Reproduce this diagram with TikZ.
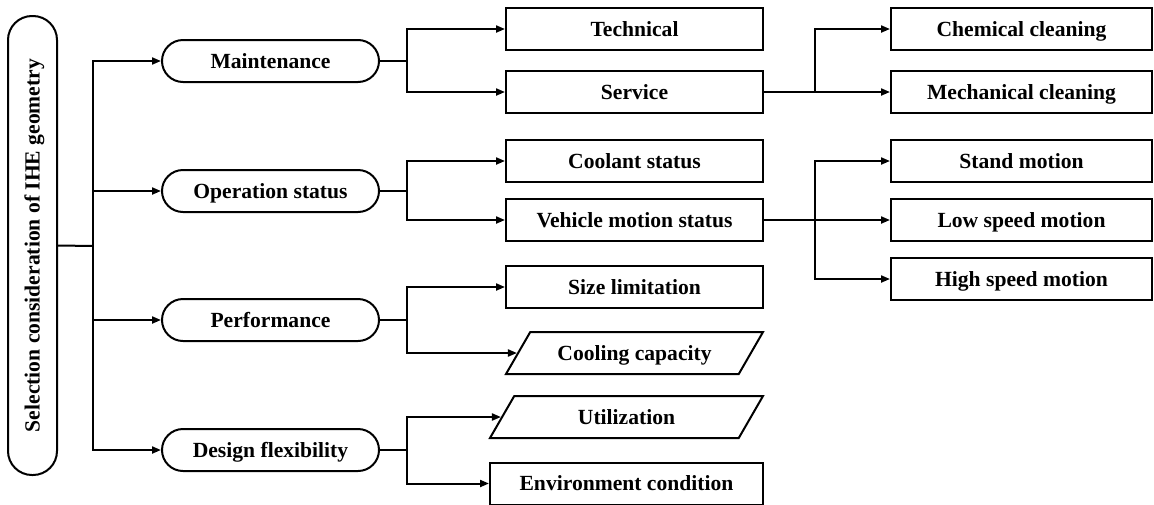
\documentclass[tikz,border=0pt]{standalone}
\usepackage{fontspec}
\setmainfont{Liberation Serif}
\usetikzlibrary{arrows.meta,shapes.geometric}
\tikzset{
  lbl/.style={font=\bfseries\fontsize{10.8}{13}\selectfont, line width=1pt, inner sep=0pt,
    text height=8.4pt, text depth=1.3pt},
  pill/.style={lbl, draw, rounded corners=10.5pt, minimum width=108.5pt, minimum height=21pt},
  sbox/.style={lbl, draw, minimum width=128.5pt, minimum height=21pt},
  slant/.style={lbl, draw, trapezium, trapezium left angle=60, trapezium right angle=120,
    trapezium stretches body, inner ysep=5.65pt, minimum width=128.5pt},
  arr/.style={line width=1pt, -{Triangle[length=4.5pt,width=3.5pt]}},
  ln/.style={line width=1pt}
}
\begin{document}
\begin{tikzpicture}[x=0.5pt, y=-0.5pt]
    \useasboundingbox (0,0) rectangle (1154,504);
    \node[lbl, draw, rounded corners=12pt, rotate=90, minimum width=229.5pt, minimum height=24.5pt] (r) at (32.5,245.5){Selection consideration of IHE geometry};
    \node[pill] (m) at (270.5,61){Maintenance};
    \node[pill] (o) at (270.5,191){Operation status};
    \node[pill] (p) at (270.5,320){Performance};
    \node[pill] (d) at (270.5,450){Design flexibility};
    \node[sbox] (tc) at (634.5,29){Technical};
    \node[sbox] (sv) at (634.5,92){Service};
    \node[sbox] (cs) at (634.5,161){Coolant status};
    \node[sbox] (vm) at (634.5,220){Vehicle motion status};
    \node[sbox] (sl) at (634.5,287){Size limitation};
    \node[slant] (cc) at (634.5,353){Cooling capacity};
    \node[slant, minimum width=136.5pt] (ut) at (626.5,417){Utilization};
    \node[sbox, minimum width=136.5pt] (ec) at (626.5,483.5){Environment condition};
    \node[sbox, minimum width=130.5pt] (ch) at (1021.5,29){Chemical cleaning};
    \node[sbox, minimum width=130.5pt] (mc) at (1021.5,92){Mechanical cleaning};
    \node[sbox, minimum width=130.5pt] (sm) at (1021.5,161){Stand motion};
    \node[sbox, minimum width=130.5pt] (ls) at (1021.5,220){Low speed motion};
    \node[sbox, minimum width=130.5pt] (hs) at (1021.5,279){High speed motion};
    \coordinate (t) at (93,246);
    \draw[ln] (r.south) -- (t);
    \draw[arr] (t) |- (m.west);
    \draw[arr] (t) |- (o.west);
    \draw[arr] (t) |- (p.west);
    \draw[arr] (t) |- (d.west);
    \draw[arr] (m.east) -- ++(27,0) |- (tc.west);
    \draw[arr] (m.east) -- ++(27,0) |- (sv.west);
    \draw[arr] (o.east) -- ++(27,0) |- (cs.west);
    \draw[arr] (o.east) -- ++(27,0) |- (vm.west);
    \draw[arr] (p.east) -- ++(27,0) |- (sl.west);
    \draw[arr] (p.east) -- ++(27,0) |- (cc.west);
    \draw[arr] (d.east) -- ++(27,0) |- (ut.west);
    \draw[arr] (d.east) -- ++(27,0) |- (ec.west);
    \draw[arr] (sv.east) -- ++(51,0) |- (ch.west);
    \draw[arr] (sv.east) -- ++(51,0) |- (mc.west);
    \draw[arr] (vm.east) -- ++(51,0) |- (sm.west);
    \draw[arr] (vm.east) -- ++(51,0) |- (ls.west);
    \draw[arr] (vm.east) -- ++(51,0) |- (hs.west);
    \end{tikzpicture}
\end{document}
